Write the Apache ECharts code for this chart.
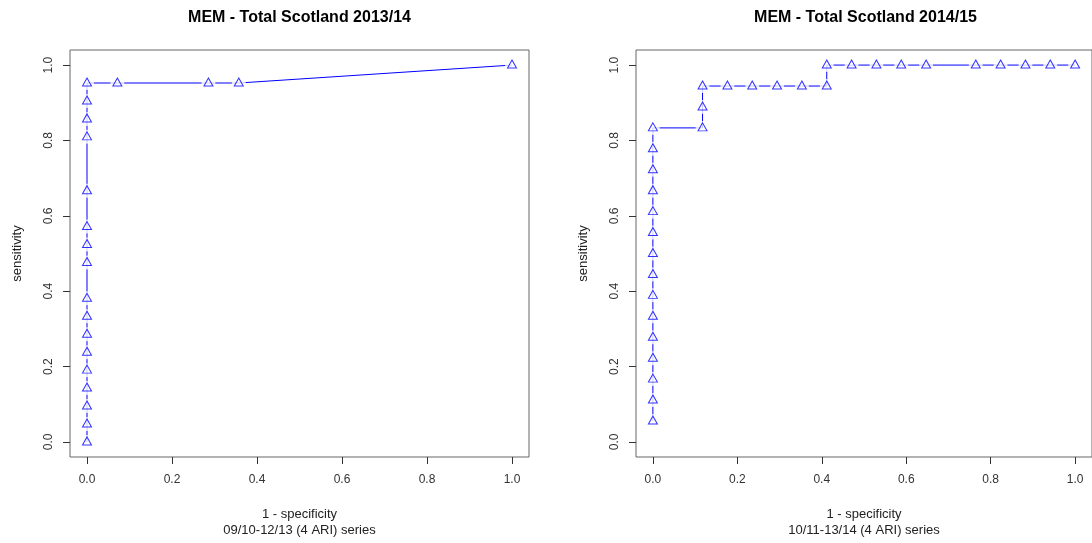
<!DOCTYPE html>
<html><head><meta charset="utf-8">
<script src="https://cdn.jsdelivr.net/npm/echarts@6/dist/echarts.min.js"></script>
<style>html,body{margin:0;padding:0;background:#fff}#c{width:1092px;height:543px}</style>
</head><body><div id="c"></div>
<script>
// ---- data ----
const panelTitles = ['MEM - Total Scotland 2013/14', 'MEM - Total Scotland 2014/15'];
const panelSubtitles = ['09/10-12/13 (4 ARI) series', '10/11-13/14 (4 ARI) series'];
const xAxisTitle = '1 - specificity';
const yAxisTitle = 'sensitivity';
const tickValues = [0, 0.2, 0.4, 0.6, 0.8, 1.0];

const leftFpr  = [0,0,0,0,0,0,0,0,0,0,0,0,0,0,0,0,0,0.0714,0.2857,0.3571,1];
const leftSens = [0,0.0476,0.0952,0.1429,0.1905,0.2381,0.2857,0.3333,0.381,0.4762,0.5238,0.5714,0.6667,0.8095,0.8571,0.9048,0.9524,0.9524,0.9524,0.9524,1];

const rightFpr  = [0,0,0,0,0,0,0,0,0,0,0,0,0,0,0,0.1176,0.1176,0.1176,0.1765,0.2353,0.2941,0.3529,0.4118,0.4118,0.4706,0.5294,0.5882,0.6471,0.7647,0.8235,0.8824,0.9412,1];
const rightSens = [0.0556,0.1111,0.1667,0.2222,0.2778,0.3333,0.3889,0.4444,0.5,0.5556,0.6111,0.6667,0.7222,0.7778,0.8333,0.8333,0.8889,0.9444,0.9444,0.9444,0.9444,0.9444,0.9444,1,1,1,1,1,1,1,1,1,1];

// ---- chart ----
const FONT = '"Liberation Sans", Arial, sans-serif';
const BLUE = '#0000ff';
const zip = (a, b) => a.map((v, i) => [v, b[i]]);
const panels = [zip(leftFpr, leftSens), zip(rightFpr, rightSens)];
const gridPos = [{left: 70, top: 50, width: 459, height: 410}, {left: 636, top: 50, width: 459, height: 410}];

const chart = echarts.init(document.getElementById('c'), null, {renderer: 'canvas'});
const fmt = v => Number(v).toFixed(1);

const option = {
  animation: false,
  backgroundColor: '#fff',
  title: panelTitles.map((t, i) => ({
    text: t,
    left: gridPos[i].left + gridPos[i].width / 2 - 5,
    top: 5,
    textAlign: 'center',
    textStyle: {fontFamily: FONT, fontSize: 16, fontWeight: 'bold', color: '#000'}
  })),
  grid: gridPos.map(g => Object.assign({show: true, borderColor: '#666', borderWidth: 1, backgroundColor: 'transparent'}, g)),
  xAxis: panels.map((p, i) => ({
    type: 'value', gridIndex: i, min: -0.04, max: 1.04, position: 'bottom',
    name: xAxisTitle + '\n' + panelSubtitles[i],
    nameLocation: 'middle', nameGap: 49,
    nameTextStyle: {fontFamily: FONT, fontSize: 13, color: '#222', lineHeight: 16},
    axisLine: {show: false, onZero: false},
    axisTick: {show: true, inside: false, length: 7, customValues: tickValues, lineStyle: {color: '#333'}},
    axisLabel: {show: true, customValues: tickValues, formatter: fmt, margin: 17,
      fontFamily: FONT, fontSize: 12, color: '#333'},
    splitLine: {show: false}
  })),
  yAxis: panels.map((p, i) => ({
    type: 'value', gridIndex: i, min: -0.04, max: 1.04, position: 'left',
    name: yAxisTitle,
    nameLocation: 'middle', nameGap: 46, nameRotate: 90,
    nameTextStyle: {fontFamily: FONT, fontSize: 13, color: '#222'},
    axisLine: {show: false, onZero: false},
    axisTick: {show: true, inside: false, length: 7, customValues: tickValues, lineStyle: {color: '#333'}},
    axisLabel: {show: true, customValues: tickValues, formatter: fmt, margin: 15, rotate: 90,
      fontFamily: FONT, fontSize: 12, color: '#333'},
    splitLine: {show: false}
  })),
  series: []
};

panels.forEach((data, i) => {
  option.series.push({
    type: 'line', xAxisIndex: i, yAxisIndex: i, data: data,
    showSymbol: false, symbol: 'none', clip: false,
    lineStyle: {color: BLUE, width: 1}, z: 2, silent: true
  });
  option.series.push({
    type: 'scatter', xAxisIndex: i, yAxisIndex: i, data: data,
    symbol: 'circle', symbolSize: 14, clip: false,
    itemStyle: {color: '#fff', borderWidth: 0}, z: 3, silent: true
  });
  option.series.push({
    type: 'scatter', xAxisIndex: i, yAxisIndex: i, data: data,
    symbol: 'triangle', symbolSize: [9, 8], symbolOffset: [0, -1], clip: false,
    itemStyle: {color: 'rgba(255,255,255,0)', borderColor: BLUE, borderWidth: 1}, z: 4, silent: true
  });
});

chart.setOption(option);
</script>
</body></html>
